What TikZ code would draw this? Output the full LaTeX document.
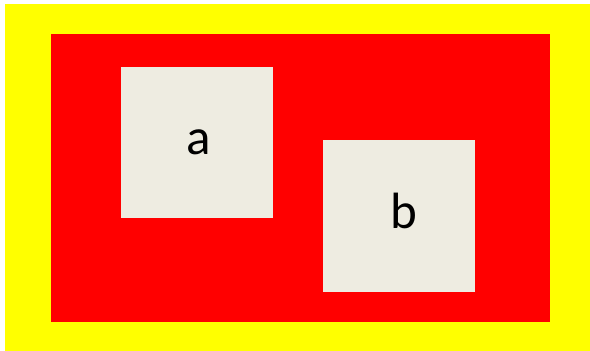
\documentclass[tikz,border=0pt]{standalone}
\usepackage{fontspec}
\setmainfont{Carlito}
\definecolor{boxfill}{HTML}{EEECE1}
\definecolor{pureyellow}{RGB}{255,255,0}
\definecolor{purered}{RGB}{255,0,0}
\begin{document}
\begin{tikzpicture}[x=1pt,y=-1pt,
  panel/.style={fill=boxfill,draw=none},
  lbl/.style={font=\fontsize{51}{60}\selectfont,anchor=base,inner sep=0pt}]
\useasboundingbox (0,0) rectangle (590,351);
\fill[white] (0,0) rectangle (590,351);
\fill[pureyellow] (5,4) rectangle (590,351);
\fill[purered] (51,34) rectangle (550,322);
\path[panel] (121,67) rectangle (273,218);
\path[panel] (323,140) rectangle (475,292);
\node[lbl] (a) at (198.5,154) {a};
\node[lbl] (b) at (403.5,228) {b};
\end{tikzpicture}
\end{document}
